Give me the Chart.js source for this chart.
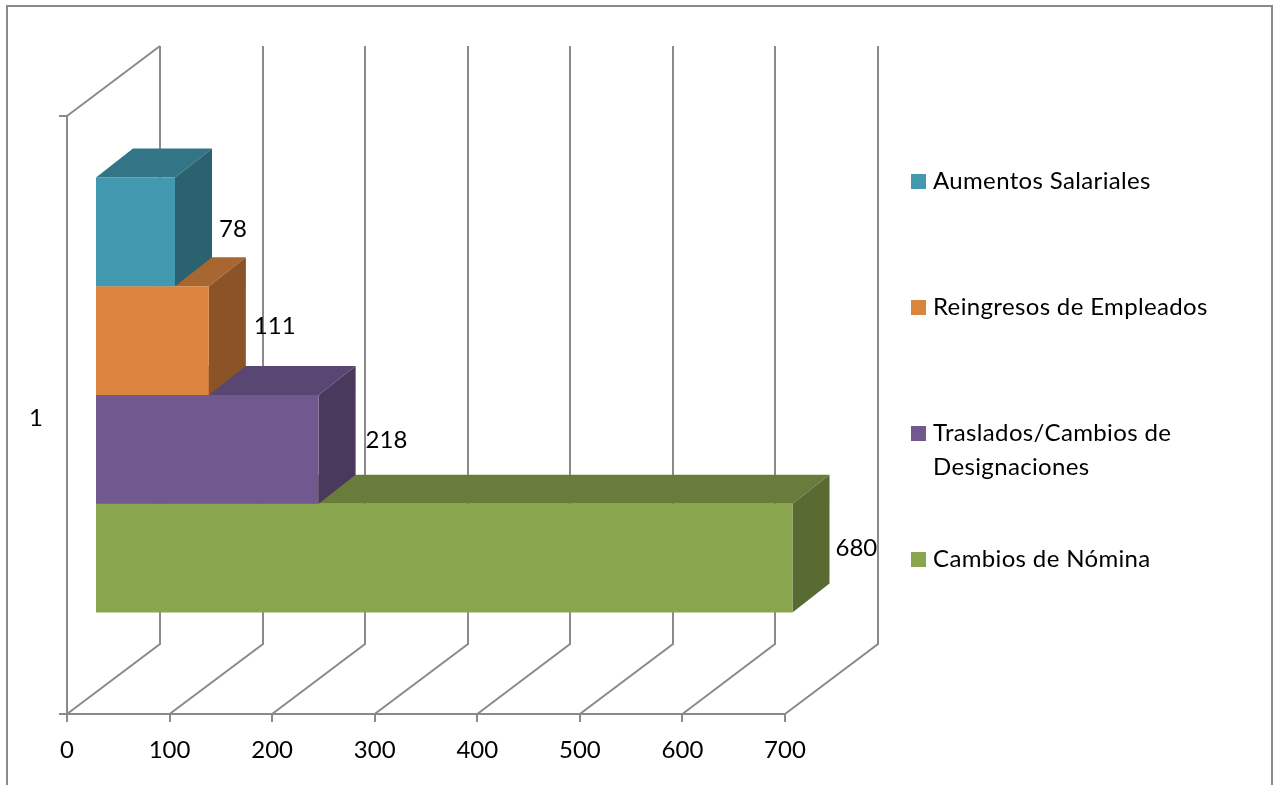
<!DOCTYPE html>
<html>
<head>
<meta charset="utf-8">
<title>Cambios</title>
<script src="https://cdn.jsdelivr.net/npm/chart.js@4/dist/chart.umd.js"></script>
<style>
html, body { margin: 0; padding: 0; background: #fff; overflow: hidden; }
#frame { position: absolute; left: 6px; top: 5px; width: 1263px; height: 800px; border: 2px solid #8a8a8a; }
#chart { position: absolute; left: 0; top: 0; }
</style>
</head>
<body>
<div id="frame"></div>
<canvas id="chart" width="1278" height="785"></canvas>
<script>
// Data
const categories = ['1'];
const seriesNames = ['Aumentos Salariales', 'Reingresos de Empleados', 'Traslados/Cambios de Designaciones', 'Cambios de Nómina'];
const seriesValues = [78, 111, 218, 680];
const legendLines = [['Aumentos Salariales'], ['Reingresos de Empleados'], ['Traslados/Cambios de', 'Designaciones'], ['Cambios de Nómina']];

// Face colours of each box
const frontColors = ['#4198AF', '#DB843D', '#71588F', '#89A54E'];
const topColors = ['#317587', '#A86630', '#5A4672', '#6A7C3B'];
const sideColors = ['#2A6270', '#8A5427', '#49395D', '#596B32'];

const GRID = '#8a8a8a';
const FONT = '24px Lato';

// fake 3D offsets, pixels
const wall = { dx: 93, dy: -70 };
const barShift = { dx: 28, dy: -20 };
const barDepth = { dx: 37, dy: -29 };

// where the value labels sit next to each box, and the legend rows
const labelNudge = [[7, -3], [8, -14], [10, -9], [6, -10]];
const legendRows = [181, 307, 433, 559];

function poly(ctx, color, pts) {
    ctx.fillStyle = color;
    ctx.beginPath();
    pts.forEach((p, i) => i ? ctx.lineTo(p[0], p[1]) : ctx.moveTo(p[0], p[1]));
    ctx.closePath();
    ctx.fill();
}

const fake3d = {
    id: 'fake3d',
    // back wall and floor lines
    beforeDatasetsDraw(chart) {
        const ctx = chart.ctx;
        const area = chart.chartArea;
        const x = chart.scales.x;
        ctx.save();
        ctx.strokeStyle = GRID;
        ctx.lineWidth = 2;
        x.ticks.forEach(t => {
            const px = x.getPixelForValue(t.value);
            ctx.beginPath();
            ctx.moveTo(px, area.bottom);
            ctx.lineTo(Math.round(px + wall.dx), area.bottom + wall.dy);
            ctx.lineTo(Math.round(px + wall.dx), area.top + wall.dy);
            ctx.stroke();
        });
        ctx.beginPath();
        ctx.moveTo(area.left, area.top);
        ctx.lineTo(area.left + wall.dx, area.top + wall.dy);
        ctx.stroke();
        ctx.restore();
    },
    // top and side faces, then move the flat bar onto the front plane
    beforeDatasetDraw(chart, args) {
        const ctx = chart.ctx;
        const i = args.index;
        const bar = chart.getDatasetMeta(i).data[0];
        const l = bar.base + barShift.dx;
        const r = bar.x + barShift.dx;
        const t = bar.y - bar.height / 2 + barShift.dy;
        const b = bar.y + bar.height / 2 + barShift.dy;
        const dx = barDepth.dx;
        const dy = barDepth.dy;
        poly(ctx, topColors[i], [[l, t], [l + dx, t + dy], [r + dx, t + dy], [r, t]]);
        poly(ctx, sideColors[i], [[r, t], [r + dx, t + dy], [r + dx, b + dy], [r, b]]);
        ctx.save();
        ctx.translate(barShift.dx, barShift.dy);
    },
    afterDatasetDraw(chart) {
        chart.ctx.restore();
    },
    // value labels and legend
    afterDatasetsDraw(chart) {
        const ctx = chart.ctx;
        ctx.save();
        ctx.font = FONT;
        ctx.fillStyle = '#000';
        ctx.textBaseline = 'middle';
        ctx.textAlign = 'left';
        seriesValues.forEach((v, i) => {
            const bar = chart.getDatasetMeta(i).data[0];
            ctx.fillText(String(v),
                bar.x + barShift.dx + barDepth.dx + labelNudge[i][0],
                bar.y + barShift.dy + labelNudge[i][1]);
        });
        ctx.letterSpacing = '0.35px';
        legendLines.forEach((lines, i) => {
            ctx.fillStyle = frontColors[i];
            ctx.fillRect(911, legendRows[i] - 7, 15, 15);
            ctx.fillStyle = '#000';
            lines.forEach((line, n) => ctx.fillText(line, 933, legendRows[i] + n * 34));
        });
        ctx.restore();
    }
};

new Chart(document.getElementById('chart').getContext('2d'), {
    type: 'bar',
    data: {
        labels: categories,
        datasets: seriesNames.map((name, i) => ({
            label: name,
            data: [seriesValues[i]],
            backgroundColor: frontColors[i],
            categoryPercentage: 0.7274,
            barPercentage: 1
        }))
    },
    options: {
        indexAxis: 'y',
        responsive: false,
        animation: false,
        layout: { padding: { left: 0, top: 116, right: 493, bottom: 0 } },
        plugins: { legend: { display: false }, title: { display: false }, tooltip: { enabled: false } },
        scales: {
            x: {
                min: 0,
                max: 700,
                afterFit(s) { s.height = 71; },
                ticks: { stepSize: 100, color: '#000', font: { family: 'Lato', size: 24 }, padding: 14, maxRotation: 0 },
                grid: { drawOnChartArea: false, color: GRID, lineWidth: 2, tickLength: 8 },
                border: { color: GRID, width: 2 }
            },
            y: {
                afterFit(s) { s.width = 67; },
                ticks: { color: '#000', font: { family: 'Lato', size: 24 }, padding: 16, labelOffset: 3 },
                grid: { offset: true, drawOnChartArea: false, color: GRID, lineWidth: 2, tickLength: 8 },
                border: { color: GRID, width: 2 }
            }
        }
    },
    plugins: [fake3d]
});
</script>
</body>
</html>
